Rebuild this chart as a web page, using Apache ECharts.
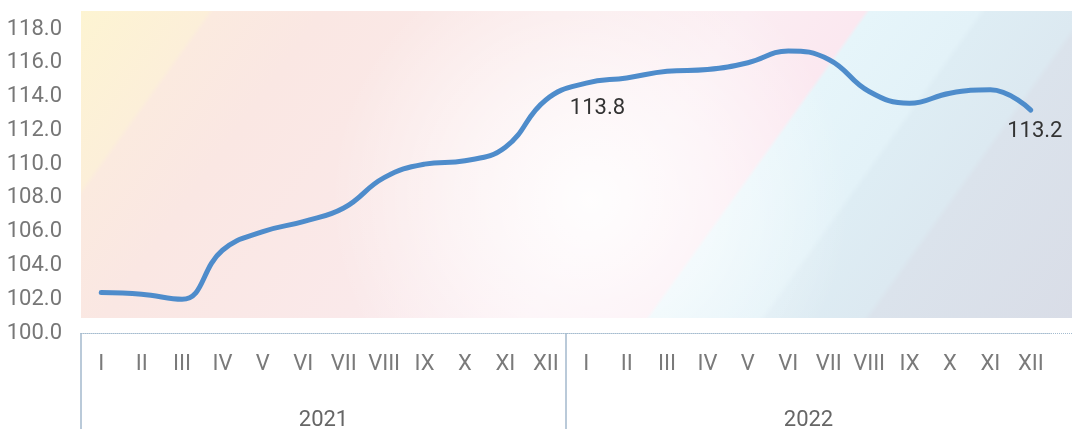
<!DOCTYPE html>
<html>
<head>
<meta charset="utf-8">
<script src="https://cdn.jsdelivr.net/npm/echarts@6/dist/echarts.min.js"></script>
<style>
html,body{margin:0;padding:0;background:#fff;}
#chart{width:1072px;height:430px;}
</style>
</head>
<body>
<div id="chart"></div>
<script>
// data
const months = ['I','II','III','IV','V','VI','VII','VIII','IX','X','XI','XII'];
const years = ['2021','2022'];
const values = [102.4,102.3,102.0,104.9,106.0,106.6,107.4,109.2,110.0,110.2,111.0,113.8,
                114.8,115.1,115.5,115.6,116.0,116.7,116.2,114.3,113.6,114.2,114.4,113.2];
const labelledPoints = [11, 23];
const yMin = 100, yMax = 118, yStep = 2;

const categories = years.flatMap(() => months);

// label placement for the two annotated points
const LABEL_STYLE = {
    11: {position:'right', distance:24, offset:[0, 9]},
    23: {position:'bottom', distance:10, offset:[4, 0]}
};

const seriesData = values.map((v, i) => {
    if (!labelledPoints.includes(i)) return v;
    return {
        value: v,
        label: Object.assign({
            show: true,
            color: '#333',
            fontSize: 22,
            fontFamily: 'Roboto',
            formatter: p => p.value.toFixed(1)
        }, LABEL_STYLE[i])
    };
});

const chart = echarts.init(document.getElementById('chart'));

// decorative backdrop behind the plot
const bgRect = {x:81, y:11, width:991, height:307};
const bgGradient = new echarts.graphic.LinearGradient(81, 11, 881, 584, [
    {offset:0.00, color:'#fdf4d2'},
    {offset:0.105, color:'#fcefd9'},
    {offset:0.11, color:'#fbeadf'},
    {offset:0.20, color:'#fae7e3'},
    {offset:0.40, color:'#fae9ea'},
    {offset:0.55, color:'#fbedf2'},
    {offset:0.648, color:'#fbe8f0'},
    {offset:0.652, color:'#e6f5fa'},
    {offset:0.742, color:'#e3f2f8'},
    {offset:0.748, color:'#deedf4'},
    {offset:0.828, color:'#dce9f1'},
    {offset:0.834, color:'#dbe3ec'},
    {offset:1.00, color:'#d9dde7'}
], true);
const glow = new echarts.graphic.RadialGradient(590, 200, 260, [
    {offset:0, color:'rgba(255,255,255,0.9)'},
    {offset:0.5, color:'rgba(255,255,255,0.5)'},
    {offset:1, color:'rgba(255,255,255,0)'}
], true);

chart.setOption({
    animation: false,
    textStyle: {fontFamily: 'Roboto'},
    graphic: [
        {type:'rect', z:-10, silent:true, shape:bgRect, style:{fill:bgGradient}},
        {type:'rect', z:-9, silent:true, shape:bgRect, style:{fill:glow}},
        {type:'line', z:5, silent:true,
         shape:{x1:1051, y1:333.5, x2:1072, y2:333.5},
         style:{stroke:'#a5bccf', lineWidth:1, lineDash:[1,1]}}
    ],
    grid: [
        {left:81, right:21, top:29, bottom:97},
        {left:81, right:21, top:333, bottom:0}
    ],
    xAxis: [
        {
            type:'category',
            gridIndex:0,
            data:categories,
            boundaryGap:true,
            axisLine:{show:true, lineStyle:{color:'#a5bccf', width:1, type:'dotted'}},
            axisTick:{show:false},
            axisLabel:{interval:0, margin:20, color:'#7a7a7a', fontSize:22}
        },
        {
            type:'category',
            gridIndex:1,
            position:'top',
            data:years,
            boundaryGap:true,
            axisLine:{show:false},
            axisTick:{show:false},
            splitLine:{show:true, showMaxLine:false, lineStyle:{color:'#a3b8cc', width:1.5}},
            axisLabel:{inside:true, margin:76, color:'#666', fontSize:22}
        }
    ],
    yAxis: [
        {
            type:'value',
            gridIndex:0,
            min:yMin,
            max:yMax,
            interval:yStep,
            splitLine:{show:false},
            axisLine:{show:false},
            axisTick:{show:false},
            axisLabel:{margin:19, color:'#777', fontSize:22, formatter:v => v.toFixed(1)}
        },
        {type:'value', gridIndex:1, show:false}
    ],
    series: [{
        type:'line',
        xAxisIndex:0,
        yAxisIndex:0,
        data:seriesData,
        smooth:0.45,
        showSymbol:true,
        symbol:'circle',
        symbolSize:0.1,
        itemStyle:{color:'#4e8ccb'},
        lineStyle:{color:'#4e8ccb', width:5, cap:'round'},
        z:3
    }]
});
</script>
</body>
</html>
